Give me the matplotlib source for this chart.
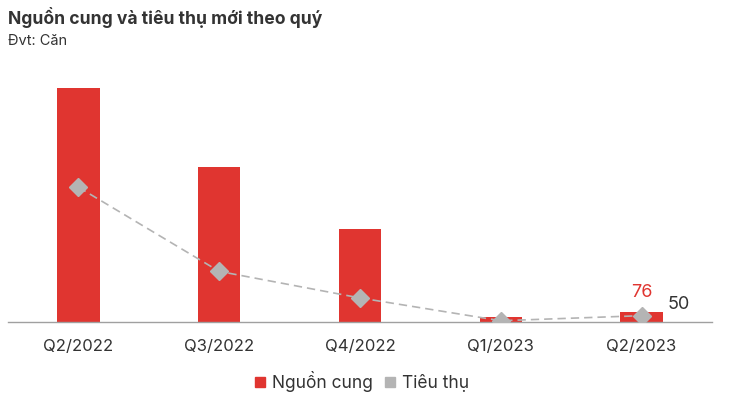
import numpy as np
import matplotlib.pyplot as plt

plt.rcParams['font.family'] = ['Inter', 'DejaVu Sans']

quarters = ["Q2/2022", "Q3/2022", "Q4/2022", "Q1/2023", "Q2/2023"]
supply = [1850, 1225, 735, 40, 76]
sales = [1065, 400, 190, 10, 50]

red = "#e03530"
grey = "#b4b4b4"
text_col = "#333333"

fig = plt.figure(figsize=(7.41, 4.01), dpi=100)
ax = fig.add_axes([8/741, 79/401, 704/741, 262/401])

x = np.arange(len(quarters))
ax.bar(x, supply, width=0.3, color=red, zorder=2)
ax.plot(x, sales, color=grey, linestyle=(0, (5, 3)), linewidth=1.2,
        marker="D", markersize=9, markerfacecolor=grey, markeredgecolor=grey, zorder=3)

ax.set_xlim(-0.5, len(quarters) - 0.5)
ax.set_ylim(0, 2070)
ax.set_yticks([])
ax.set_xticks(x)
ax.set_xticklabels(quarters, fontsize=12, color=text_col)
ax.tick_params(axis="x", length=0, pad=12)
for s in ["top", "right", "left"]:
    ax.spines[s].set_visible(False)
ax.spines["bottom"].set_color("#a0a0a0")
ax.spines["bottom"].set_linewidth(1)

# labels on the last quarter
ax.annotate(str(supply[-1]), (x[-1], supply[-1]), xytext=(0, 8), textcoords="offset points",
            ha="center", va="bottom", fontsize=13, color=red)
ax.annotate(str(sales[-1]), (x[-1], sales[-1]), xytext=(19, 2), textcoords="offset points",
            ha="left", va="bottom", fontsize=13, color=text_col)

fig.text(8/741, 1 - 17/401, "Nguồn cung và tiêu thụ mới theo quý", fontsize=12.6,
         fontweight="bold", color=text_col, va="center", ha="left")
fig.text(8/741, 1 - 41/401, "Đvt: Căn", fontsize=10.5, color=text_col, va="center", ha="left")

handles = [plt.Line2D([], [], marker="s", linestyle="", color=red, markersize=6.5),
           plt.Line2D([], [], marker="s", linestyle="", color=grey, markersize=6.5)]
fig.legend(handles, ["Nguồn cung", "Tiêu thụ"], loc="center", bbox_to_anchor=(362/741, 1 - 382/401),
           ncol=2, frameon=False, fontsize=12.5, handletextpad=0.4, columnspacing=0.65,
           handlelength=0.6, labelcolor=text_col)

fig.savefig("out.png", dpi=100)
